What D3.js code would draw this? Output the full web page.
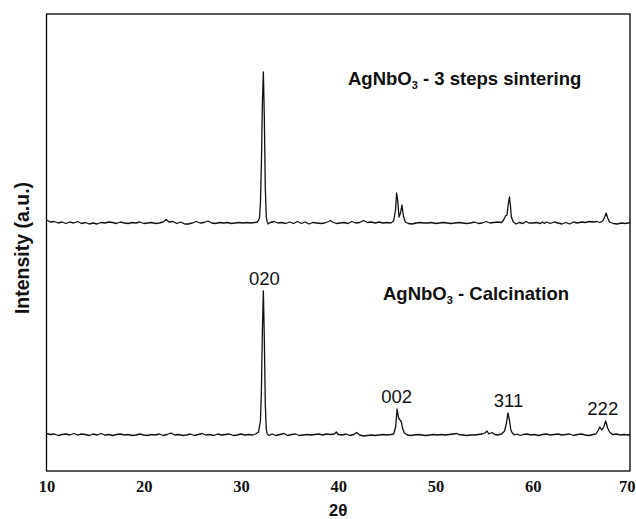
<!DOCTYPE html>
<html>
<head>
<meta charset="utf-8">
<script src="https://cdn.jsdelivr.net/npm/d3@7"></script>
<style>
  html, body { margin: 0; padding: 0; background: #fff; }
  svg { display: block; }
</style>
</head>
<body>
<svg id="chart" width="636" height="519"></svg>
<script>
// ---------- DATA ----------
const xTicks = [10, 20, 30, 40, 50, 60, 70];
const seriesNames = ["AgNbO3 - 3 steps sintering", "AgNbO3 - Calcination"];
const seriesOffsets = [248, 36]; // vertical stacking offsets (a.u.)

// [2θ, intensity a.u.] – 3 steps sintering
const sintering = [
 [10.0,3],[10.4,1],[10.8,1.5],[11.2,0],[11.6,1],[12.0,-0.5],[12.4,1],[12.8,0],[13.2,1.5],[13.6,-0.5],
 [14.0,0.5],[14.4,-1],[14.8,0],[15.2,-1],[15.6,0.5],[16.0,0],[16.4,1],[16.8,0.5],[17.2,-0.5],[17.6,1],
 [18.0,0],[18.4,-0.5],[18.8,0.5],[19.2,0],[19.6,1],[20.0,-0.5],[20.4,0],[20.8,0.5],[21.2,-0.5],[21.6,0],
 [22.0,1],[22.3,3.5],[22.6,1],[23.0,1.5],[23.4,-0.5],[23.8,1],[24.2,-1],[24.6,-1],[25.0,0],[25.4,1.5],
 [25.8,0],[26.2,0.5],[26.6,2],[27.0,0],[27.4,-0.5],[27.8,0.5],[28.2,0],[28.6,0.5],[29.0,-0.5],[29.4,0],
 [29.8,0.5],[30.2,0],[30.6,0.5],[31.0,0],[31.4,0.5],[31.7,1],[31.9,5],[32.0,20],[32.1,60],[32.2,120],
 [32.3,151],[32.4,105],[32.5,35],[32.6,6],[32.7,1],[32.8,-1],[33.0,0.5],[33.4,1.5],[33.8,0],[34.2,0.5],
 [34.6,-0.5],[35.0,1],[35.4,-0.5],[35.8,1.5],[36.2,-0.5],[36.6,1],[37.0,-1],[37.4,0.5],[37.8,0],[38.2,-0.5],
 [38.6,0],[39.0,1.5],[39.2,2.5],[39.4,1],[39.8,-0.5],[40.2,0],[40.6,0.5],[41.0,-0.5],[41.4,1.5],[41.8,0],
 [42.2,0.5],[42.6,2.5],[43.0,0.5],[43.4,1],[43.8,0],[44.2,1],[44.6,0],[45.0,0.5],[45.4,0],[45.7,2],
 [45.9,14],[46.0,30],[46.1,24],[46.25,6],[46.4,10],[46.55,18],[46.7,7],[46.9,1],[47.2,-0.5],[47.6,-1],
 [48.0,0],[48.4,0.5],[48.8,0],[49.2,0],[49.6,0.5],[50.0,-0.5],[50.4,0],[50.8,0.5],[51.2,0],[51.6,-0.5],
 [52.0,0],[52.4,0.5],[52.8,0],[53.2,-0.5],[53.6,0],[54.0,1],[54.4,-0.5],[54.8,0],[55.2,1.5],[55.6,0],
 [56.0,0.5],[56.4,1],[56.8,0.5],[57.0,3],[57.2,7],[57.35,8],[57.5,20],[57.6,26],[57.7,18],[57.8,6],
 [58.0,1],[58.3,-1],[58.6,0.5],[59.0,-0.5],[59.3,1.5],[59.6,0],[60.0,0],[60.4,0.5],[60.8,-0.5],[61.0,1],
 [61.2,-0.5],[61.4,1],[61.8,-0.5],[62.2,1],[62.6,0],[63.0,-1],[63.4,0.5],[63.8,-1],[64.2,1],[64.6,0],
 [65.0,1],[65.4,0.5],[65.8,1.5],[66.2,1],[66.6,1.5],[66.9,0.5],[67.2,2],[67.4,6],[67.55,10],[67.7,5],
 [67.9,1],[68.3,-0.5],[68.7,-1],[69.1,0],[69.5,-0.5],[69.8,0],[70.0,0.5]
];

// [2θ, intensity a.u.] – calcination
const calcination = [
 [10.0,1.5],[10.4,0.5],[10.8,1],[11.2,-0.5],[11.6,0.5],[12.0,1],[12.4,0],[12.8,1.5],[13.2,0],[13.6,1],
 [14.0,0.5],[14.4,-0.5],[14.8,1],[15.2,0],[15.6,1.5],[16.0,0],[16.4,0.5],[16.8,-0.5],[17.2,0.5],[17.6,1],
 [18.0,0],[18.4,0.5],[18.8,-0.5],[19.2,0],[19.6,1],[20.0,0],[20.4,-0.5],[20.8,0.5],[21.2,0],[21.6,1],
 [22.0,-0.5],[22.4,0.5],[22.8,2],[23.2,0],[23.6,0.5],[24.0,-0.5],[24.4,0],[24.8,1],[25.2,-0.5],[25.6,0.5],
 [26.0,1.5],[26.4,0],[26.8,0.5],[27.2,-0.5],[27.6,1],[28.0,0],[28.4,0.5],[28.8,1],[29.2,-0.5],[29.6,0],
 [30.0,1],[30.4,0],[30.8,0.5],[31.2,0],[31.5,1],[31.8,3],[32.0,14],[32.1,45],[32.2,105],[32.3,144],
 [32.4,95],[32.5,30],[32.6,6],[32.7,1],[32.9,-0.5],[33.2,1],[33.6,-0.5],[34.0,0.5],[34.4,1.5],[34.8,-0.5],
 [35.2,0.5],[35.6,1],[36.0,-0.5],[36.4,0],[36.8,0.5],[37.2,0],[37.6,0.5],[38.0,1],[38.4,0],[38.8,1],
 [39.2,0.5],[39.6,1],[39.8,3],[40.0,0.5],[40.4,0],[40.8,1],[41.2,-0.5],[41.6,0.5],[41.9,2.5],[42.2,0],
 [42.6,-1],[43.0,-0.5],[43.4,0],[43.8,-0.5],[44.2,0],[44.6,0.5],[45.0,0],[45.4,0.5],[45.7,1],[45.9,8],
 [46.05,26],[46.2,17],[46.35,15],[46.5,13],[46.6,7],[46.8,2],[47.1,0],[47.4,-0.5],[47.8,0],[48.2,0.5],
 [48.6,0],[49.0,-0.5],[49.4,0],[49.8,0.5],[50.2,0],[50.6,0.5],[51.0,0],[51.4,0.5],[51.8,1],[52.2,1.5],
 [52.4,0.5],[52.8,0],[53.2,-0.5],[53.6,0],[54.0,0],[54.4,0.5],[54.8,1],[55.1,2],[55.3,4],[55.5,1],
 [55.8,2.5],[56.1,0.5],[56.4,0],[56.8,1],[57.1,4],[57.3,12],[57.45,22],[57.6,15],[57.75,5],[57.9,2],
 [58.1,0],[58.4,1],[58.7,-0.5],[59.0,0.5],[59.4,1],[59.8,0],[60.2,0.5],[60.6,-0.5],[61.0,0.5],[61.4,1],
 [61.8,0],[62.2,0.5],[62.6,1],[63.0,0],[63.4,0.5],[63.8,1],[64.2,-0.5],[64.6,0.5],[65.0,1],[65.4,0],
 [65.8,-0.5],[66.2,0.5],[66.5,1],[66.7,4],[66.9,8],[67.1,5],[67.3,8],[67.5,14],[67.7,7],[67.9,3],
 [68.2,0.5],[68.6,1],[69.0,0],[69.4,0.5],[69.8,0],[70.0,0.5]
];

// Miller-index annotations on the calcination pattern: [label, 2θ, intensity]
const peakLabels = [["020", 32.4, 144], ["002", 46.0, 26], ["311", 57.5, 22], ["222", 67.2, 14]];

// ---------- CHART ----------
const margin = {left: 46.5, right: 6, top: 14, bottom: 48};
const W = 636, H = 519;
const svg = d3.select("#chart");

const x = d3.scaleLinear().domain([10, 70]).range([margin.left, W - margin.right]);
const y = d3.scaleLinear().domain([0, 457]).range([H - margin.bottom, margin.top]);

// frame
svg.append("rect")
  .attr("x", x(10)).attr("y", y(457))
  .attr("width", x(70) - x(10)).attr("height", y(0) - y(457))
  .attr("fill", "none").attr("stroke", "#000").attr("stroke-width", 1.3);

// x axis (labels only)
const xAxis = d3.axisBottom(x).tickValues(xTicks).tickSize(0).tickPadding(9).tickFormat(d3.format("d"));
const gx = svg.append("g").attr("transform", `translate(0,${y(0)})`).call(xAxis);
gx.select(".domain").remove();
gx.selectAll("text")
  .attr("font-family", "'Liberation Serif', 'Times New Roman', serif")
  .attr("font-weight", "bold").attr("font-size", 16.5).attr("fill", "#111");
// last label sits against the right edge of the picture
gx.selectAll(".tick").filter(d => d === 70).select("text")
  .attr("text-anchor", "end").attr("x", W - 1 - x(70));

// traces
const line = off => d3.line().x(d => x(d[0])).y(d => y(d[1] + off));
[sintering, calcination].forEach((s, i) => {
  svg.append("path").datum(s)
    .attr("d", line(seriesOffsets[i]))
    .attr("fill", "none").attr("stroke", "#111").attr("stroke-width", 1.3)
    .attr("stroke-linejoin", "round");
});

// series titles
const titlePos = [[348, 85], [383, 300]];
seriesNames.forEach((name, i) => {
  const t = svg.append("text")
    .attr("x", titlePos[i][0]).attr("y", titlePos[i][1])
    .attr("font-family", "'Liberation Sans', Arial, sans-serif")
    .attr("font-weight", "bold").attr("font-size", 18.5).attr("fill", "#111");
  const parts = name.split("O3");
  t.append("tspan").text(parts[0] + "O");
  t.append("tspan").text("3").attr("font-size", 11).attr("dy", 4);
  t.append("tspan").text(parts[1]).attr("dy", -4);
});

// peak labels
svg.selectAll(".plabel").data(peakLabels).enter().append("text")
  .attr("class", "plabel")
  .attr("x", d => x(d[1]))
  .attr("y", d => y(d[2] + seriesOffsets[1]) - 6)
  .attr("text-anchor", "middle")
  .attr("font-family", "'Liberation Sans', Arial, sans-serif")
  .attr("font-size", 18.5).attr("fill", "#111")
  .text(d => d[0]);

// axis titles
svg.append("text")
  .attr("x", 338).attr("y", 516)
  .attr("text-anchor", "middle")
  .attr("font-family", "'Liberation Sans', Arial, sans-serif")
  .attr("font-weight", "bold").attr("font-size", 17).attr("fill", "#111")
  .text("2θ");

svg.append("text")
  .attr("transform", `translate(29,248) rotate(-90)`)
  .attr("text-anchor", "middle")
  .attr("font-family", "'Liberation Sans', Arial, sans-serif")
  .attr("font-weight", "bold").attr("font-size", 19.5).attr("fill", "#111")
  .text("Intensity (a.u.)");
</script>
</body>
</html>
